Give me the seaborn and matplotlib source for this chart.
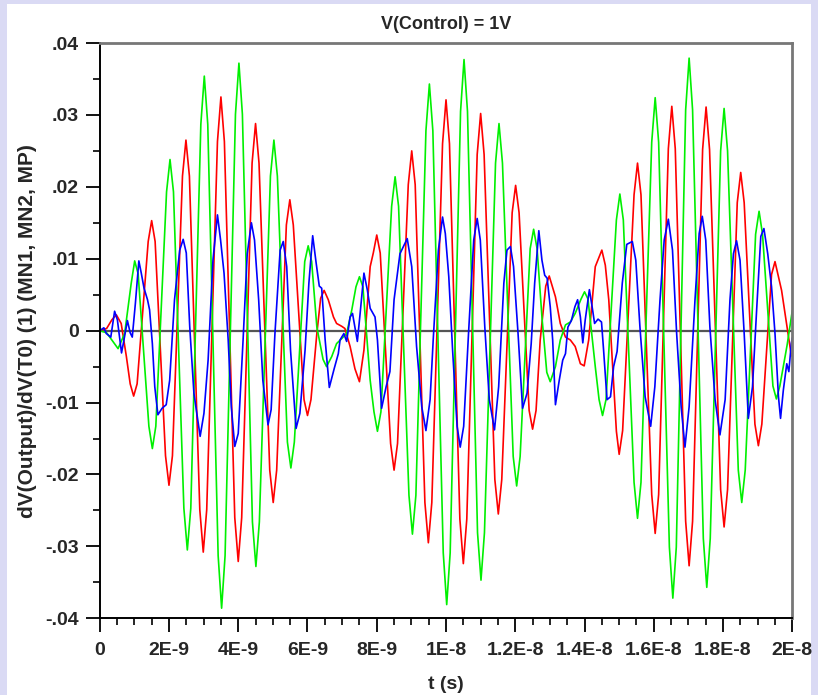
import matplotlib
matplotlib.use("Agg")
import matplotlib.pyplot as plt
from matplotlib.patches import Rectangle
import pandas as pd
import seaborn as sns

# values, t in ns, v in units of 1e-3
red_t = [0.00, 0.20, 0.35, 0.48, 0.62, 0.77, 0.88, 0.98, 1.08, 1.40, 1.50, 1.60,
         1.90, 2.00, 2.10, 2.39, 2.49, 2.59, 2.89, 2.99, 3.09, 3.40, 3.50, 3.60,
         3.90, 4.00, 4.10, 4.40, 4.50, 4.60, 4.91, 5.01, 5.11, 5.39, 5.49, 5.59,
         5.90, 6.00, 6.10, 6.27, 6.38, 6.48, 6.60, 6.75, 6.84, 6.99, 7.08, 7.23,
         7.37, 7.50, 7.63, 7.81, 7.90, 8.00, 8.10, 8.40, 8.50, 8.60, 8.91, 9.01,
         9.11, 9.39, 9.49, 9.59, 9.90, 10.00, 10.10, 10.40, 10.50, 10.60, 10.90, 11.00,
         11.10, 11.41, 11.51, 11.61, 11.91, 12.01, 12.11, 12.40, 12.50, 12.60, 12.72, 12.88,
         12.98, 13.16, 13.30, 13.45, 13.59, 13.73, 13.88, 13.99, 14.12, 14.31, 14.50, 14.60,
         14.70, 14.84, 14.92, 15.00, 15.10, 15.43, 15.53, 15.63, 15.94, 16.04, 16.14, 16.42,
         16.52, 16.62, 16.92, 17.02, 17.12, 17.41, 17.51, 17.61, 17.93, 18.03, 18.13, 18.41,
         18.51, 18.61, 18.92, 19.02, 19.12, 19.40, 19.50, 19.69, 19.96, 20.00]
red_v = [0.0, 0.3, 1.5, 2.2, 1.0, -3.6, -7.4, -9.1, -7.4, 12.4, 15.3, 12.4,
         -17.4, -21.5, -17.4, 21.5, 26.5, 21.5, -24.9, -30.8, -24.9, 26.3, 32.5, 26.3,
         -26.0, -32.1, -26.0, 23.3, 28.8, 23.3, -19.4, -23.9, -19.4, 14.7, 18.2, 14.7,
         -9.6, -11.8, -9.6, -0.4, 4.5, 5.6, 4.3, 1.9, 1.0, 0.6, 0.3, -2.2,
         -5.3, -7.1, -2.7, 8.9, 10.8, 13.3, 10.8, -15.7, -19.4, -15.7, 20.3, 25.0,
         20.3, -23.9, -29.5, -23.9, 26.0, 32.1, 26.0, -26.2, -32.4, -26.2, 24.5, 30.2,
         24.5, -20.7, -25.5, -20.7, 16.4, 20.2, 16.4, -11.1, -13.7, -11.1, -1.3, 6.2,
         7.6, 4.7, 1.0, -0.9, -1.3, -2.2, -4.6, -4.9, -1.3, 8.9, 11.2, 9.1,
         4.3, -7.3, -14.0, -17.2, -13.9, 18.9, 23.3, 18.9, -22.8, -28.2, -22.8, 25.3,
         31.2, 25.3, -26.5, -32.7, -26.5, 25.2, 31.1, 25.2, -22.1, -27.3, -22.1, 17.8,
         22.0, 17.8, -13.0, -16.0, -13.0, 7.8, 9.6, 5.6, -3.1, -3.6]

green_t = [0.00, 0.20, 0.35, 0.53, 0.72, 0.91, 1.01, 1.11, 1.42, 1.52, 1.62, 1.93,
           2.03, 2.13, 2.43, 2.53, 2.63, 2.92, 3.02, 3.12, 3.42, 3.52, 3.62, 3.92,
           4.02, 4.12, 4.41, 4.51, 4.61, 4.93, 5.03, 5.13, 5.42, 5.52, 5.62, 5.92,
           6.02, 6.12, 6.27, 6.45, 6.55, 6.70, 6.84, 6.99, 7.13, 7.28, 7.40, 7.50,
           7.60, 7.81, 7.92, 8.02, 8.12, 8.43, 8.53, 8.63, 8.93, 9.03, 9.13, 9.42,
           9.52, 9.62, 9.92, 10.02, 10.12, 10.42, 10.52, 10.62, 10.91, 11.01, 11.11, 11.43,
           11.53, 11.63, 11.94, 12.04, 12.14, 12.43, 12.53, 12.63, 12.77, 12.91, 13.01, 13.16,
           13.30, 13.45, 13.59, 13.73, 13.90, 14.00, 14.10, 14.31, 14.42, 14.52, 14.62, 14.92,
           15.02, 15.12, 15.43, 15.53, 15.63, 15.94, 16.04, 16.14, 16.45, 16.55, 16.65, 16.92,
           17.02, 17.12, 17.43, 17.53, 17.63, 17.93, 18.03, 18.13, 18.44, 18.54, 18.64, 18.94,
           19.04, 19.14, 19.44, 19.54, 19.64, 19.85, 20.00]
green_v = [0.0, -0.3, -1.3, -2.5, -0.4, 6.6, 9.7, 7.9, -13.3, -16.4, -13.3, 19.3,
           23.8, 19.3, -24.7, -30.5, -24.7, 28.7, 35.4, 28.7, -31.3, -38.6, -31.3, 30.1,
           37.2, 30.1, -26.6, -32.8, -26.6, 21.5, 26.5, 21.5, -15.5, -19.1, -15.5, 9.6,
           11.8, 9.6, 0.5, -4.0, -5.0, -3.6, -1.8, -1.1, -0.4, 2.9, 6.1, 7.5,
           6.1, -6.9, -11.3, -14.0, -11.3, 17.3, 21.4, 17.3, -22.9, -28.3, -22.9, 27.8,
           34.3, 27.8, -30.9, -38.1, -30.9, 30.5, 37.7, 30.5, -28.1, -34.7, -28.1, 23.3,
           28.8, 23.3, -17.5, -21.6, -17.5, 11.4, 14.1, 11.4, 1.9, -5.8, -7.1, -5.0,
           -1.3, 0.8, 1.2, 2.4, 4.4, 5.4, 4.4, -5.0, -9.6, -11.8, -9.6, 15.4,
           19.0, 15.4, -21.1, -26.1, -21.1, 26.2, 32.4, 26.2, -30.1, -37.2, -30.1, 30.7,
           37.9, 30.7, -28.9, -35.7, -28.9, 25.0, 30.9, 25.0, -19.4, -23.9, -19.4, 13.4,
           16.6, 13.4, -7.7, -9.5, -7.7, -2.0, 2.8]

blue_t = [0.00, 0.12, 0.19, 0.32, 0.43, 0.51, 0.63, 0.70, 0.80, 0.88, 0.94, 1.03,
          1.13, 1.20, 1.28, 1.38, 1.44, 1.52, 1.59, 1.68, 1.80, 1.92, 2.02, 2.16,
          2.31, 2.41, 2.50, 2.60, 2.72, 2.90, 3.01, 3.13, 3.27, 3.40, 3.49, 3.59,
          3.71, 3.80, 3.90, 4.00, 4.14, 4.26, 4.38, 4.47, 4.59, 4.71, 4.86, 4.95,
          5.06, 5.21, 5.30, 5.40, 5.51, 5.67, 5.78, 5.93, 6.04, 6.15, 6.25, 6.34,
          6.41, 6.51, 6.63, 6.77, 6.89, 6.94, 7.05, 7.13, 7.23, 7.30, 7.44, 7.52,
          7.63, 7.73, 7.81, 7.95, 8.02, 8.14, 8.27, 8.38, 8.50, 8.67, 8.88, 9.01,
          9.15, 9.30, 9.42, 9.54, 9.63, 9.78, 9.90, 9.98, 10.08, 10.19, 10.32, 10.41,
          10.51, 10.65, 10.80, 10.90, 10.99, 11.12, 11.25, 11.40, 11.52, 11.67, 11.76, 11.86,
          11.95, 12.08, 12.21, 12.34, 12.46, 12.56, 12.68, 12.77, 12.85, 12.92, 13.01, 13.08,
          13.16, 13.27, 13.37, 13.45, 13.52, 13.62, 13.72, 13.80, 13.88, 13.95, 14.02, 14.14,
          14.22, 14.29, 14.39, 14.49, 14.55, 14.65, 14.75, 14.84, 14.94, 15.09, 15.22, 15.38,
          15.48, 15.60, 15.75, 15.91, 16.03, 16.18, 16.30, 16.42, 16.54, 16.66, 16.79, 16.90,
          17.02, 17.19, 17.31, 17.40, 17.50, 17.62, 17.77, 17.91, 18.06, 18.20, 18.30, 18.39,
          18.49, 18.61, 18.73, 18.85, 18.97, 19.09, 19.18, 19.29, 19.40, 19.50, 19.60, 19.66,
          19.74, 19.84, 19.90, 19.97, 20.00]
blue_v = [0.0, 0.4, -0.4, -0.9, 2.7, 1.5, -3.1, -1.3, 1.4, -0.3, -0.9, 3.8,
          9.7, 8.0, 5.9, 4.3, 2.9, -1.8, -7.8, -11.7, -10.8, -10.3, -6.9, 4.3,
          11.2, 12.7, 10.8, 0.5, -8.7, -14.7, -11.5, -4.1, 9.8, 16.1, 12.6, 8.0,
          -1.3, -10.6, -16.1, -14.3, -1.3, 10.7, 15.0, 12.6, 4.3, -6.9, -13.1, -11.0,
          -0.4, 11.2, 12.4, 8.9, -2.7, -13.6, -11.5, -2.7, 6.6, 13.2, 9.4, 6.2,
          5.9, -1.3, -7.9, -5.3, -3.2, -1.3, -0.4, -1.5, 1.9, 2.4, -1.5, 2.4,
          8.0, 5.6, 3.1, 1.9, -1.3, -10.8, -7.8, -5.7, 4.3, 10.7, 12.8, 8.9,
          -2.2, -10.6, -13.9, -9.6, -1.3, 11.2, 15.8, 13.5, 7.5, -2.7, -13.3, -16.2,
          -13.3, -0.4, 12.6, 15.6, 12.6, 0.5, -9.6, -13.8, -7.8, 6.6, 11.2, 11.7,
          8.9, -0.4, -10.8, -8.7, -1.8, 6.6, 13.9, 9.8, 7.7, 7.3, 3.3, -1.3,
          -10.3, -6.9, -4.1, -3.2, 0.5, 1.4, 3.3, 4.3, 1.9, -1.7, 1.5, 5.7,
          3.3, 1.0, 1.6, 1.2, -2.7, -9.6, -9.2, -5.0, -2.9, 6.6, 12.0, 12.4,
          9.8, 0.5, -9.2, -13.3, -7.8, 4.3, 12.6, 15.5, 11.2, -0.4, -10.6, -16.2,
          -10.6, 4.3, 13.5, 15.9, 12.6, 0.5, -9.6, -14.5, -9.6, 4.3, 10.7, 12.5,
          9.8, -0.4, -12.2, -7.8, 2.9, 13.1, 14.2, 10.7, 6.1, -0.4, -9.2, -12.2,
          -8.3, -4.6, -5.7, -1.8, -1.0]

x_ticks = [0, 2e-9, 4e-9, 6e-9, 8e-9, 1e-8, 1.2e-8, 1.4e-8, 1.6e-8, 1.8e-8, 2e-8]
x_labels = ["0", "2E-9", "4E-9", "6E-9", "8E-9", "1E-8", "1.2E-8", "1.4E-8",
            "1.6E-8", "1.8E-8", "2E-8"]
y_ticks = [0.04, 0.03, 0.02, 0.01, 0, -0.01, -0.02, -0.03, -0.04]
y_labels = [".04", ".03", ".02", ".01", "0", "-.01", "-.02", "-.03", "-.04"]

frames = []
for name, ts, vs in [("red", red_t, red_v), ("green", green_t, green_v), ("blue", blue_t, blue_v)]:
    frames.append(pd.DataFrame({"t": [x * 1e-9 for x in ts],
                                "v": [y * 1e-3 for y in vs],
                                "trace": name}))
df = pd.concat(frames, ignore_index=True)

sns.set_theme(style="ticks")
plt.rcParams["font.family"] = ["Liberation Sans", "DejaVu Sans"]
plt.rcParams["font.weight"] = "bold"

fig = plt.figure(figsize=(8.18, 6.95), dpi=100)
fig.patch.set_facecolor("#dadaf4")
# white panel behind everything
fig.add_artist(Rectangle((7 / 818, 0), 804 / 818, 691 / 695, transform=fig.transFigure,
                         facecolor="white", edgecolor="none", zorder=-10))
ax = fig.add_axes([0.1219, 0.1104, 0.8467, 0.8277])
ax.set_facecolor("white")

ax.axhline(0, color="#555555", lw=1.6, zorder=1)
sns.lineplot(data=df, x="t", y="v", hue="trace",
             palette={"red": "#ff0000", "green": "#00f000", "blue": "#0000ff"},
             estimator=None, sort=False, legend=False, linewidth=1.2, ax=ax, zorder=2)

ax.set_xlim(0, 2e-8)
ax.set_ylim(-0.04, 0.04)
ax.set_xticks(x_ticks)
ax.set_xticklabels(x_labels)
ax.set_yticks(y_ticks)
ax.set_yticklabels(y_labels)
ax.set_xticks([i * 0.5e-9 for i in range(41)], minor=True)
ax.set_yticks([-0.035, -0.025, -0.015, -0.005, 0.005, 0.015, 0.025, 0.035], minor=True)
ax.tick_params(axis="both", which="major", length=10, width=1.3, color="black",
               labelsize=14, pad=5)
ax.tick_params(axis="x", which="major", pad=7)
ax.tick_params(axis="both", which="minor", length=5, width=1.2, color="black")

for s in ["left", "bottom"]:
    ax.spines[s].set_color("black")
    ax.spines[s].set_linewidth(1.4)
for s in ["top", "right"]:
    ax.spines[s].set_visible(True)
    ax.spines[s].set_color("#777777")
    ax.spines[s].set_linewidth(2)

ax.set_title("V(Control) = 1V", fontsize=13, fontweight="bold", pad=10)
ax.set_xlabel("t (s)", fontsize=14, fontweight="bold", labelpad=12)
ax.set_ylabel("dV(Output)/dV(T0) (1) (MN1, MN2, MP)", fontsize=15, fontweight="bold",
              labelpad=6)

fig.savefig("out.png", dpi=100, facecolor=fig.get_facecolor())
